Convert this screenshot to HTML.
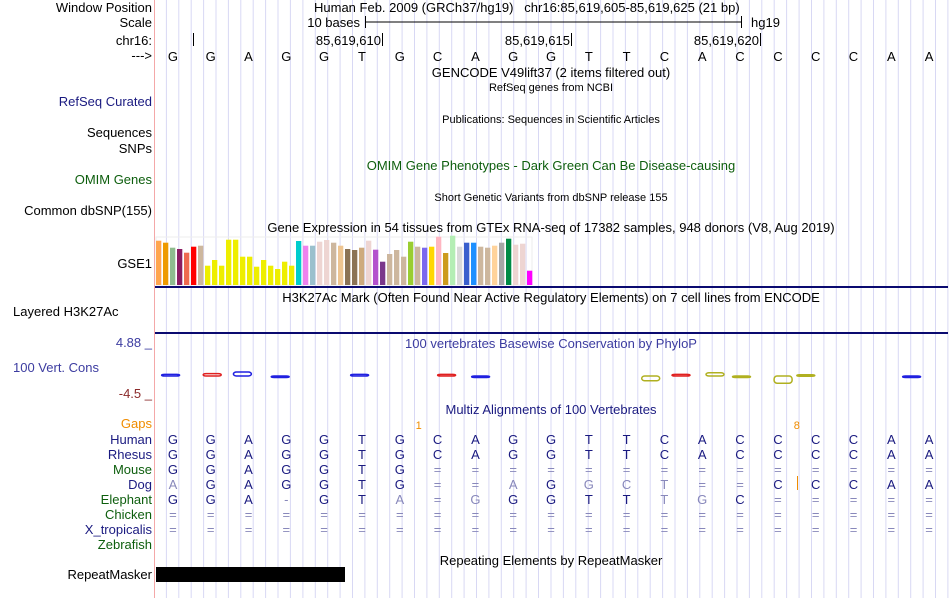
<!DOCTYPE html>
<html><head><meta charset="utf-8">
<style>
body{margin:0;width:950px;height:598px;background:#fff;position:relative;overflow:hidden;font-family:"Liberation Sans",sans-serif;font-size:13px;}
.t{position:absolute;white-space:nowrap;line-height:14px;}
.l{position:absolute;right:798px;text-align:right;white-space:nowrap;line-height:14px;}
.r{position:absolute;text-align:right;white-space:nowrap;line-height:14px;}
.c{position:absolute;white-space:nowrap;line-height:14px;transform:translateX(-50%);}
svg{position:absolute;left:0;top:0;}
</style></head><body>
<svg id="grid" width="950" height="598"></svg>

<div class="l" style="top:1px;color:#000">Window Position</div>
<div class="l" style="top:16px">Scale</div>
<div class="l" style="top:34px">chr16:</div>
<div class="l" style="top:49px">---&gt;</div>
<div class="l" style="top:95px;color:#1a1a80">RefSeq Curated</div>
<div class="l" style="top:126px">Sequences</div>
<div class="l" style="top:142px">SNPs</div>
<div class="l" style="top:173px;color:#0d5e0d">OMIM Genes</div>
<div class="l" style="top:204px">Common dbSNP(155)</div>
<div class="l" style="top:257px">GSE1</div>
<div class="t" style="left:13px;top:305px">Layered H3K27Ac</div>
<div class="l" style="top:336px;color:#3c3ca0">4.88 _</div>
<div class="t" style="left:13px;top:361px;color:#3c3ca0">100 Vert. Cons</div>
<div class="l" style="top:387px;color:#8b2a2a">-4.5 _</div>
<div class="l" style="top:417px;color:#f08c00">Gaps</div>
<div class="l" style="top:568px">RepeatMasker</div>

<div class="t" style="left:314px;top:1px">Human Feb. 2009 (GRCh37/hg19) &nbsp;&nbsp;chr16:85,619,605-85,619,625 (21 bp)</div>
<div class="r" style="right:590px;top:16px">10 bases</div>
<div class="t" style="left:751px;top:16px">hg19</div>
<div class="r" style="right:569px;top:34px">85,619,610</div>
<div class="r" style="right:380px;top:34px">85,619,615</div>
<div class="r" style="right:191px;top:34px">85,619,620</div>
<div class="c" style="left:551px;top:66px">GENCODE V49lift37 (2 items filtered out)</div>
<div class="c" style="left:551px;top:81px;font-size:11px">RefSeq genes from NCBI</div>
<div class="c" style="left:551px;top:113px;font-size:11px">Publications: Sequences in Scientific Articles</div>
<div class="c" style="left:551px;top:159px;color:#0d5e0d">OMIM Gene Phenotypes - Dark Green Can Be Disease-causing</div>
<div class="c" style="left:551px;top:191px;font-size:11px">Short Genetic Variants from dbSNP release 155</div>
<div class="c" style="left:551px;top:221px">Gene Expression in 54 tissues from GTEx RNA-seq of 17382 samples, 948 donors (V8, Aug 2019)</div>
<div class="c" style="left:551px;top:291px">H3K27Ac Mark (Often Found Near Active Regulatory Elements) on 7 cell lines from ENCODE</div>
<div class="c" style="left:551px;top:337px;color:#3c3ca0">100 vertebrates Basewise Conservation by PhyloP</div>
<div class="c" style="left:551px;top:403px;color:#1a1a80">Multiz Alignments of 100 Vertebrates</div>
<div class="c" style="left:551px;top:554px">Repeating Elements by RepeatMasker</div>

<script>
const bases = ["G","G","A","G","G","T","G","C","A","G","G","T","T","C","A","C","C","C","C","A","A"];
const species = ["Human","Rhesus","Mouse","Dog","Elephant","Chicken","X_tropicalis","Zebrafish"];
const speciesColors = ["#1a1a80","#1a1a80","#0d5e0d","#1a1a80","#0d5e0d","#0d5e0d","#1a1a80","#0d5e0d"];
const humanRow = "GGAGGTGCAGGTTCACCCCAA";
const rhesusRow = "GGAGGTGCAGGTTCACCCCAA";
const mouseRow = "GGAGGTG==============";
const dogRow = "aGAGGTG==aGgct==CCCAA";
const elephantRow = "GGA-GTa=gGGTTtgC=====";
const chickenRow = "=====================";
const xtropRow = "=====================";
const zebrafishRow = "                     ";
const gapLabels = ["1","8"];
const gapAfterIndex = [6.5,16.5];
const gtexValues = [133,127,112,108,97,115,118,58,75,58,136,136,85,85,55,75,58,48,70,58,132,118,118,130,135,127,118,108,105,112,133,106,70,93,105,85,130,115,112,115,145,96,148,115,127,127,115,112,118,127,139,121,124,43];
const gtexColors = ["#FFA54F","#EE9A00","#8FBC8F","#8B1C62","#EE6A50","#FF0000","#CDB79E","#EEEE00","#EEEE00","#EEEE00","#EEEE00","#EEEE00","#EEEE00","#EEEE00","#EEEE00","#EEEE00","#EEEE00","#EEEE00","#EEEE00","#EEEE00","#00CDCD","#EE82EE","#9AC0CD","#EED5D2","#EED5D2","#CDB79E","#EEC591","#8B7355","#8B7355","#CDAA7D","#EED5D2","#B452CD","#7A378B","#CDB79E","#CDB79E","#CDB79E","#9ACD32","#CDB79E","#7B68EE","#FFD700","#FFB6C1","#CD9B1D","#B4EEB4","#D9D9D9","#3A5FCD","#1E90FF","#CDB79E","#CDB79E","#FFD39B","#A6A6A6","#008B45","#EED5D2","#EED5D2","#FF00FF"];
const phyloIdx = [0.2,1.3,2.1,3.1,5.2,7.5,8.4,12.9,13.7,14.6,15.3,16.4,17.0,19.8];
const phyloVal = [0.4,0.6,1.0,-0.3,0.4,0.4,-0.3,-1.2,0.4,0.8,-0.2,-1.8,0.3,-0.1];
const phyloCol = ["#2020e0","#e02020","#2020e0","#2020e0","#2020e0","#e02020","#2020e0","#b0b020","#e02020","#b0b020","#b0b020","#b0b020","#b0b020","#2020e0"];

const NS="http://www.w3.org/2000/svg";
const svg=document.getElementById('grid');
const X0=154, W=794, bw=W/bases.length;
const xBase=i=>X0+bw*(i+0.5);
function mk(tag,attrs){const e=document.createElementNS(NS,tag);for(const k in attrs)e.setAttribute(k,attrs[k]);svg.appendChild(e);return e;}
for(let x=X0+12.4;x<948;x+=12.405){const e=mk('line',{x1:x.toFixed(1),x2:x.toFixed(1),y1:0,y2:598,stroke:'#d8d8f4','stroke-width':1});

}
const pb=mk('line',{x1:154.5,x2:154.5,y1:0,y2:598,stroke:'#f4a8a8','stroke-width':1});


mk('path',{d:'M365.5 16V28M365.5 22H741.5M741.5 16V28M193.5 33V46M382.5 33V46M571.5 33V46M760.5 33V46',stroke:'#000',fill:'none'});
const gBase=285, gScale=1/3;
mk('rect',{x:156,y:237,width:376,height:48,fill:'none',stroke:'#eee'});
gtexValues.forEach((v,i)=>{const h=v*gScale;const r=mk('rect',{x:(156+i*7).toFixed(1),y:(gBase-h).toFixed(1),width:5.3,height:h.toFixed(1),fill:gtexColors[i]});

});
mk('rect',{x:155,y:286,width:793,height:2,fill:'#0a0a70'});
mk('rect',{x:155,y:332,width:793,height:2,fill:'#0a0a70'});
const pY=v=>376-v*4;
phyloIdx.forEach((p,i)=>{const x=X0+bw*p;const v=phyloVal[i];
const r=mk('rect',{x:x.toFixed(1),y:(v>=0?pY(v):376).toFixed(1),width:18,height:Math.max(1.5,Math.abs(v)*4).toFixed(1),fill:'none',stroke:phyloCol[i],'stroke-width':1.5,rx:3});

});
gapLabels.forEach((g,i)=>{const t=mk('text',{x:(X0+bw*(gapAfterIndex[i]+0.5)).toFixed(1),y:429,fill:'#f08c00','font-size':11,'font-family':'Liberation Sans, sans-serif','text-anchor':'middle'});t.textContent=g;

});
mk('line',{x1:797.5,x2:797.5,y1:476,y2:490,stroke:'#f08c00'});
const rm=mk('rect',{x:156,y:567,width:189,height:15,fill:'#000'});


function addLetters(row,y,name){[...row].forEach((ch,i)=>{if(ch===' ')return;const light=(ch===ch.toLowerCase()&&ch!=='='&&ch!=='-');
const t=mk('text',{x:xBase(i).toFixed(1),y:y,'text-anchor':'middle','font-size':13,'font-family':'Liberation Sans, sans-serif',fill:name==='ref'?'#000':(ch==='='||ch==='-'||light?'#8888bb':'#1a1a80')});
t.textContent=ch.toUpperCase();

});}
addLetters(bases.join(''),61,'ref');
const rows=[humanRow,rhesusRow,mouseRow,dogRow,elephantRow,chickenRow,xtropRow,zebrafishRow];
species.forEach((s,k)=>{const y=444+k*15;addLetters(rows[k],y,s.toLowerCase());
const d=document.createElement('div');d.className='l';d.style.top=(y-11)+'px';d.style.color=speciesColors[k];d.textContent=s;


document.body.appendChild(d);});
</script>
</body></html>
